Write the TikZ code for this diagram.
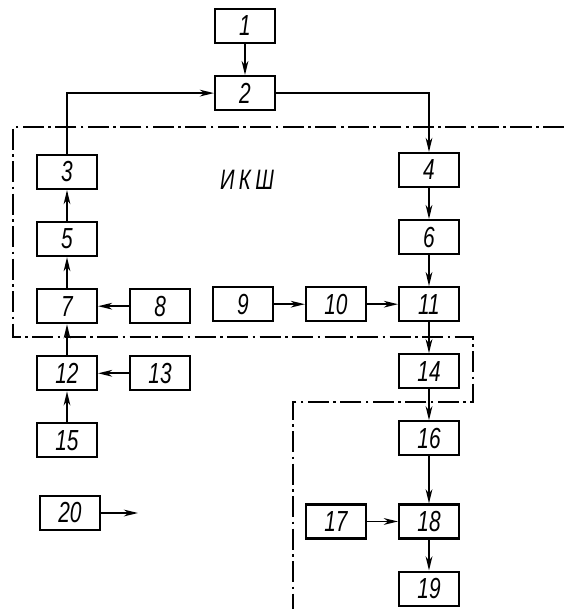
\documentclass[tikz,border=0pt]{standalone}
\usepackage{fontspec}
\setmainfont{Liberation Sans}[FakeStretch=0.72]
\usetikzlibrary{arrows.meta, positioning}

\begin{document}
\begin{tikzpicture}[
        x=0.02cm, y=-0.02cm,
        node distance=0.62cm,
        blk/.style={draw, line width=1.2pt, minimum width=1.2cm, minimum height=0.68cm, inner sep=0pt, font=\fontsize{16.5}{19}\selectfont\itshape},
        flow/.style={-{Stealth[length=8pt, width=3.8pt, inset=2.4pt]}, line width=1.1pt},
        frame/.style={line width=0.75pt, dash pattern=on 12pt off 2.5pt on 1.5pt off 2.5pt}
    ]
        \useasboundingbox (0,0) rectangle (564,609);
        \node[blk] (b1) at (245,26) {1};
        \node[blk, below=of b1] (b2) {2};
        \node[blk] (b3) at (67,172) {3};
        \node[blk, below=of b3] (b5) {5};
        \node[blk, below=of b5] (b7) {7}; \node[blk, right=of b7] (b8) {8};
        \node[blk, below=of b7] (b12) {12}; \node[blk, right=of b12] (b13) {13};
        \node[blk, below=of b12] (b15) {15};
        \node[blk] (b20) at (70,513) {20}; \coordinate (out20) at (138,513);
        \node[blk] (b4) at (429,170) {4};
        \node[blk, below=of b4] (b6) {6};
        \node[blk, below=of b6] (b11) {11}; \node[blk, left=of b11] (b10) {10}; \node[blk, left=of b10] (b9) {9};
        \node[blk, below=of b11] (b14) {14};
        \node[blk, below=of b14] (b16) {16};
        \node[blk, below=0.94cm of b16] (b18) {18}; \node[blk, left=of b18] (b17) {17};
        \node[blk, below=of b18] (b19) {19};
        \node[font=\fontsize{16}{19}\selectfont\itshape] (iksh) at (247,180) {И\hspace{2.5pt}К\hspace{2.5pt}Ш};
        \draw[frame] (564,127) -- (13,127) -- (13,337) -- (473,337) -- (473,402) -- (293,402) -- (293,609);
        \draw[flow] (b1)--(b2); \draw[flow] (b3.north) |- (b2.west); \draw[flow] (b2.east) -| (b4.north);
        \draw[flow] (b5)--(b3); \draw[flow] (b7)--(b5); \draw[flow] (b12)--(b7); \draw[flow] (b15)--(b12);
        \draw[flow] (b8)--(b7); \draw[flow] (b13)--(b12); \draw[flow] (b20)--(out20);
        \draw[flow] (b4)--(b6); \draw[flow] (b6)--(b11); \draw[flow] (b11)--(b14); \draw[flow] (b14)--(b16);
        \draw[flow] (b16)--(b18); \draw[flow] (b18)--(b19);
        \draw[flow] (b9)--(b10); \draw[flow] (b10)--(b11); \draw[flow] (b17)--(b18);
    \end{tikzpicture}
\end{document}
